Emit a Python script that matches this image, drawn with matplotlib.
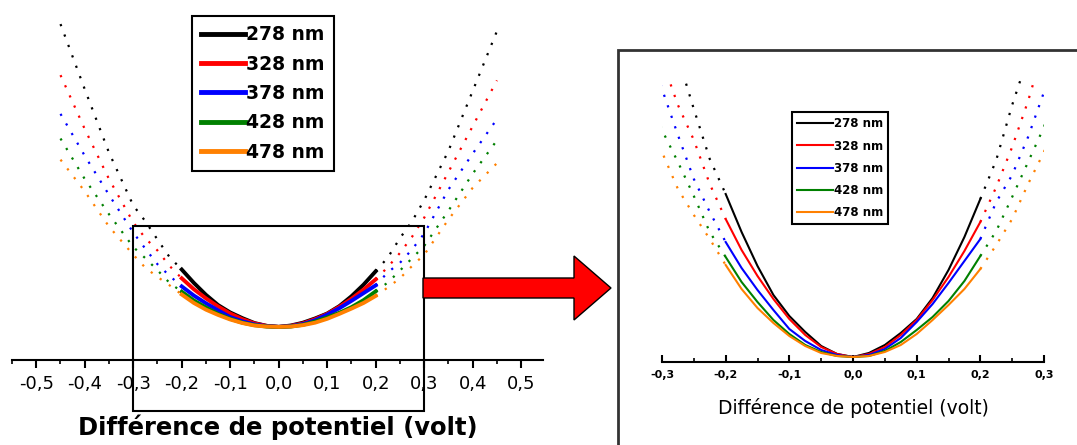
import numpy as np
import matplotlib
matplotlib.use("Agg")
import matplotlib.pyplot as plt
from matplotlib.patches import Rectangle, FancyArrow
from matplotlib.ticker import MultipleLocator, FuncFormatter

# tension (V) and current (arb. units)
volts = [-0.45, -0.40, -0.35, -0.30, -0.275, -0.25, -0.225, -0.20, -0.175, -0.15,
         -0.125, -0.10, -0.075, -0.05, -0.025, 0.0, 0.025, 0.05, 0.075, 0.10,
         0.125, 0.15, 0.175, 0.20, 0.225, 0.25, 0.275, 0.30, 0.35, 0.40, 0.45]

i_278 = [8.60, 6.75, 4.95, 3.45, 3.00, 2.48, 1.98, 1.63, 1.25, 0.91,
         0.62, 0.41, 0.25, 0.11, 0.03, 0.00, 0.04, 0.12, 0.24, 0.38,
         0.59, 0.87, 1.20, 1.58, 1.97, 2.52, 3.00, 3.60, 5.00, 6.70, 8.40]
i_328 = [7.15, 5.62, 4.20, 2.97, 2.52, 2.17, 1.73, 1.38, 1.07, 0.81,
         0.58, 0.38, 0.22, 0.10, 0.03, 0.00, 0.03, 0.10, 0.22, 0.37,
         0.57, 0.80, 1.06, 1.35, 1.70, 2.10, 2.56, 3.10, 4.40, 5.70, 7.00]
i_378 = [6.05, 4.86, 3.75, 2.68, 2.22, 1.78, 1.45, 1.15, 0.89, 0.67,
         0.47, 0.28, 0.16, 0.07, 0.02, 0.00, 0.02, 0.08, 0.19, 0.35,
         0.53, 0.74, 0.96, 1.18, 1.55, 1.82, 2.20, 2.65, 3.90, 4.92, 5.90]
i_428 = [5.35, 4.20, 3.20, 2.27, 1.95, 1.61, 1.25, 1.00, 0.75, 0.55,
         0.37, 0.23, 0.12, 0.05, 0.01, 0.00, 0.01, 0.06, 0.15, 0.27,
         0.40, 0.56, 0.76, 1.01, 1.26, 1.60, 1.95, 2.30, 3.30, 4.35, 5.30]
i_478 = [4.75, 3.85, 2.85, 2.05, 1.68, 1.42, 1.18, 0.92, 0.68, 0.49,
         0.34, 0.21, 0.11, 0.04, 0.01, 0.00, 0.01, 0.05, 0.12, 0.23,
         0.37, 0.52, 0.68, 0.88, 1.12, 1.38, 1.73, 2.05, 3.05, 3.95, 4.65]

labels = ["278 nm", "328 nm", "378 nm", "428 nm", "478 nm"]
colors = ["black", "#ff0000", "#0000ff", "#008000", "#ff8000"]
series = [i_278, i_328, i_378, i_428, i_478]

W, H = 1077, 445
V = np.array(volts)
inner = np.abs(V) <= 0.2001
left_out = V <= -0.1999
right_out = V >= 0.1999

fig = plt.figure(figsize=(W / 100, H / 100), dpi=100)


def comma(x, pos):
    return f"{x:.1f}".replace(".", ",")


def draw(ax, lw_in, lw_out):
    for y, c, lab in zip(series, colors, labels):
        y = np.array(y)
        ax.plot(V[inner], y[inner], color=c, lw=lw_in, label=lab)
        for m in (left_out, right_out):
            ax.plot(V[m], y[m], color=c, lw=lw_out, ls=(0, (1, 4)))
    for s in ["left", "right", "top"]:
        ax.spines[s].set_visible(False)
    ax.set_yticks([])
    ax.xaxis.set_major_locator(MultipleLocator(0.1))
    ax.xaxis.set_minor_locator(MultipleLocator(0.05))
    ax.xaxis.set_major_formatter(FuncFormatter(comma))
    ax.patch.set_alpha(0)


# ---- left: full range
ax1 = fig.add_axes([12 / W, (H - 360) / H, 531 / W, 350 / H])
draw(ax1, 2.8, 1.6)
ax1.set_xlim(-0.55, 0.545)
ax1.set_ylim(-0.94, 9.0)
ax1.spines["bottom"].set_linewidth(1.5)
ax1.tick_params(axis="x", which="major", direction="out", length=6, width=1.5,
                labelsize=13, pad=5)
ax1.tick_params(axis="x", which="minor", direction="out", length=3, width=1.2)
ax1.set_xlabel("Différence de potentiel (volt)", fontsize=17.5, fontweight="bold",
               labelpad=15)
ax1.add_patch(Rectangle((-0.3, -2.39), 0.6, 5.26, fill=False, ec="black", lw=1.5,
                        clip_on=False, zorder=5))
leg1 = ax1.legend(loc="upper left", bbox_to_anchor=(192 / W, 1 - 16 / H),
                  bbox_transform=fig.transFigure, borderaxespad=0,
                  prop={"weight": "bold", "size": 13.5}, handlelength=2.3,
                  handletextpad=0.1, labelspacing=0.55, fancybox=False,
                  framealpha=1, edgecolor="black", borderpad=0.5)
leg1.get_frame().set_linewidth(1.5)
for h in leg1.get_lines():
    h.set_linewidth(3.5)

# ---- arrow and zoom frame
fig.add_artist(FancyArrow(423 / W, (H - 288) / H, 188 / W, 0, width=20 / H,
                          head_width=64 / H, head_length=37 / W,
                          length_includes_head=True, fc="#ff0000", ec="black",
                          lw=1, transform=fig.transFigure))
fig.add_artist(Rectangle((618 / W, -0.2), 0.6, (H - 50) / H + 0.2, fill=False,
                         ec="#333333", lw=2, transform=fig.transFigure))

# ---- right: zoom on -0.3 .. 0.3
ax2 = fig.add_axes([662 / W, (H - 362) / H, 382 / W, 284 / H])
draw(ax2, 1.5, 1.6)
ax2.set_xlim(-0.3, 0.3)
ax2.set_ylim(-0.05, 2.79)
ax2.spines["bottom"].set_linewidth(1.5)
ax2.tick_params(axis="x", which="major", direction="in", length=5, width=1.5,
                labelsize=8, pad=6)
ax2.tick_params(axis="x", which="minor", direction="in", length=3, width=1.2)
for t in ax2.get_xticklabels():
    t.set_fontweight("bold")
ax2.set_xlabel("Différence de potentiel (volt)", fontsize=13.5, labelpad=13)
leg2 = ax2.legend(loc="upper left", bbox_to_anchor=(792 / W, 1 - 112 / H),
                  bbox_transform=fig.transFigure, borderaxespad=0,
                  prop={"weight": "bold", "size": 8.5}, handlelength=3.0,
                  handletextpad=0.1, labelspacing=0.78, fancybox=False,
                  framealpha=1, edgecolor="black", borderpad=0.45)
leg2.get_frame().set_linewidth(1.5)

fig.savefig("out.png", dpi=100)
